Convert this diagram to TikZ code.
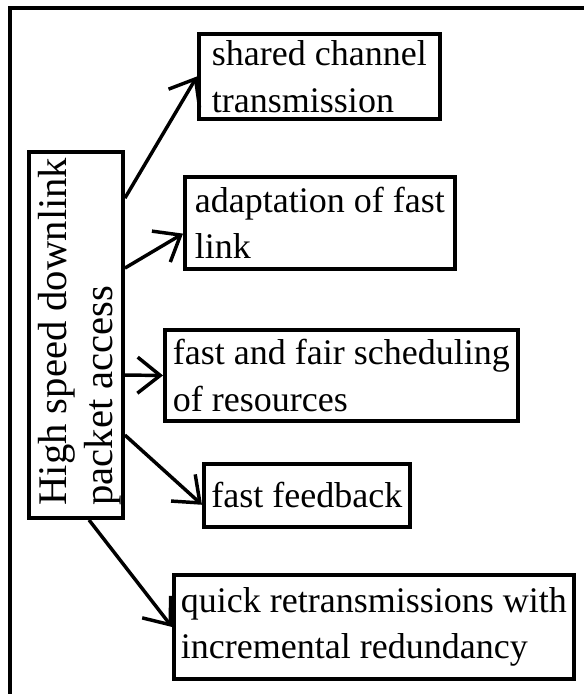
\documentclass[tikz,border=0pt]{standalone}
\usepackage{fontspec}
\setmainfont{Liberation Serif}
\usepackage{graphicx}
\usetikzlibrary{arrows.meta}

\begin{document}
\begin{tikzpicture}[x=0.75pt, y=-0.75pt,
    featbox/.style={draw, line width=2.9pt, inner sep=2pt, align=left, anchor=north west,
        font=\fontsize{27pt}{35pt}\selectfont},
    featarrow/.style={line width=2.6pt, -{Straight Barb[length=17pt, width=27pt]}}]
    \useasboundingbox (0,0) rectangle (584,694);
    % Draw the outer frame (only its left and top sides show)
    \draw[line width=3pt] (10,694) -- (10,8) -- (584,8);

    % Draw the main box with its rotated label
    \node[draw, line width=2.9pt, inner sep=0pt, minimum width=70.5pt, minimum height=274.5pt] (hsdpa) at (76,335)
        {\rotatebox{90}{\raisebox{-3pt}[\height][\depth]{\hspace*{5pt}\fontsize{30.5pt}{34.5pt}\selectfont\begin{tabular}{@{}l@{}}High speed downlink\\packet access\end{tabular}}}};

    % Draw the feature boxes on the right
    \node[featbox, minimum width=180.75pt, minimum height=63.75pt] (shared) at (197,32) {shared channel\\transmission};
    \node[featbox, minimum width=202.5pt, minimum height=69pt] (linkadapt) at (183,175) {adaptation of fast\\link};
    \node[featbox, minimum width=264.75pt, minimum height=68.25pt] (sched) at (163,328) {fast and fair scheduling\\of resources};
    \node[featbox, minimum width=154.5pt, minimum height=47.25pt] (feedback) at (202,462) {fast feedback};
    \node[featbox, minimum width=300pt, minimum height=78pt] (retrans) at (172,573) {quick retransmissions with\\incremental redundancy};

    % Draw the arrows from the main box
    \draw[featarrow] ([yshift=-36pt]hsdpa.north east) -- (shared.west);
    \draw[featarrow] ([yshift=-88.5pt]hsdpa.north east) -- ([yshift=-8pt]linkadapt.west);
    \draw[featarrow] ([yshift=-168.75pt]hsdpa.north east) -- (sched.west);
    \draw[featarrow] ([yshift=-213.75pt]hsdpa.north east) -- ([yshift=-7pt]feedback.west);
    \draw[featarrow] ([xshift=9.75pt]hsdpa.south) -- (retrans.west);
\end{tikzpicture}
\end{document}
